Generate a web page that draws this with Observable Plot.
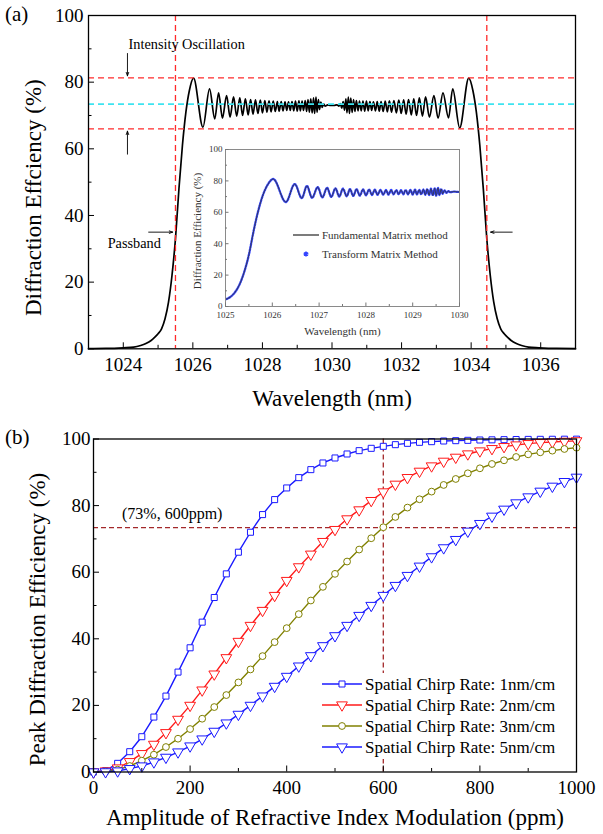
<!DOCTYPE html>
<html><head><meta charset="utf-8">
<script src="https://cdn.jsdelivr.net/npm/d3@7"></script>
<script src="https://cdn.jsdelivr.net/npm/@observablehq/plot@0.6"></script>
<style>
body{margin:0;background:#fff;}
#fig{position:relative;width:603px;height:834px;background:#fff;font-family:"Liberation Serif","Times New Roman",serif;color:#000;overflow:hidden}
#fig > *{position:absolute}
#fig svg, #fig svg text{font-family:"Liberation Serif","Times New Roman",serif}
.plab{font-size:21px;line-height:1}
</style></head><body><div id="fig"></div>
<script>
const FONT = '"Liberation Serif","Times New Roman",serif';

// ---------- Panel (a): spectrum (tails, rise, local extrema) ----------
const wavelengthNm = [
  1023.0,1023.5,1024.0,1024.3,1024.5,1024.65,1024.8,1024.9,1025.0,1025.1,1025.2,1025.3,1025.4,1025.5,1025.6,1025.7,1025.8,1025.9,1026.02,
  1026.29,1026.48,1026.63,1026.74,1026.85,1026.97,1027.07,1027.17,1027.26,1027.35,1027.43,1027.51,1027.59,1027.66,1027.73,1027.8,1027.87,1027.94,
  1028.0,1028.07,1028.13,1028.19,1028.25,1028.31,1028.37,1028.43,1028.48,1028.54,1028.59,1028.65,1028.7,1028.75,1028.8,1028.85,1028.9,1028.95,
  1029.0,1029.05,1029.09,1029.14,1029.18,1029.23,1029.27,1029.31,1029.35,1029.39,1029.43,1029.47,1029.5,1029.54,1029.57,1029.61,1029.64,1029.68,
  1029.72,1029.76,1029.8,1029.88,1029.96,1030.06,1030.14,
  1030.2,1030.24,1030.28,1030.32,1030.36,1030.4,1030.43,1030.47,1030.5,1030.54,1030.58,1030.62,1030.66,1030.7,1030.75,1030.79,1030.84,1030.89,
  1030.94,1030.99,1031.04,1031.09,1031.14,1031.19,1031.25,1031.3,1031.36,1031.41,1031.47,1031.53,1031.59,1031.65,1031.71,1031.78,1031.85,1031.92,
  1031.99,1032.06,1032.13,1032.2,1032.28,1032.35,1032.43,1032.51,1032.6,1032.69,1032.8,1032.93,1033.05,1033.19,1033.35,1033.47,1033.67,1033.93,
  1034.05,1034.15,1034.25,1034.35,1034.45,1034.55,1034.65,1034.75,1034.85,1034.95,1035.05,1035.15,1035.3,1035.45,1035.65,1035.95,1036.45,1037.0
];
const efficiencyPct = [
  0.05,0.1,0.3,0.5,1.0,1.6,2.5,3.4,4.5,6.0,9.0,14,22,33,48,61,71,77.5,81.2,
  66.5,78,69,76.8,69.2,76,69.5,75.6,69.8,75.3,70,75,70.2,74.8,70.4,74.7,70.6,74.6,
  70.8,74.5,71,74.4,71.1,74.3,71.2,74.2,71.3,74.2,71.4,74.1,71.5,74.1,71.5,74.2,71.4,74.3,
  71.3,74.4,71.4,74.3,71.5,74.5,71.2,74.8,71,75,70.8,75.3,70.6,75.5,71,74.8,71.8,74,
  72.4,73.5,72.8,73.2,73,73,73.2,
  72.8,73.6,72.2,74.2,71.6,75,70.8,75.5,70.6,75.2,70.9,74.8,71.2,74.5,71.4,74.3,71.4,74.3,
  71.3,74.3,71.4,74.2,71.5,74.1,71.4,74.2,71.3,74.2,71.2,74.3,71.1,74.4,71,74.5,70.8,74.6,
  70.6,74.7,70.4,74.8,70.2,75,70,75.3,69.8,75.6,69.5,76,69.2,76.8,69.3,78,66.3,81.2,
  77.5,71,61,48,33,22,14,9,6,4.5,3.4,2.5,1.6,1.0,0.5,0.3,0.1,0.05
];
const passbandEdgesNm = [1025.5, 1034.45];
const oscillationBoundsPct = [81.3, 66];
const meanEfficiencyPct = [73.4];
const aXTicks = [1024,1026,1028,1030,1032,1034,1036];
const aXMinor = [1023,1025,1027,1029,1031,1033,1035,1037];
const aYTicks = [0,20,40,60,80,100];
const aYMinor = [10,30,50,70,90];
const aArrows = [
  {x1:1024.12,y1:88.6,x2:1024.12,y2:81.9},
  {x1:1024.12,y1:58.4,x2:1024.12,y2:65.3},
  {x1:1024.73,y1:35.0,x2:1025.42,y2:35.0},
  {x1:1035.18,y1:35.0,x2:1034.56,y2:35.0}
];
const aNotes = [
  {x:1024.15,y:91.3,label:"Intensity Oscillation"},
  {x:1023.55,y:31.6,label:"Passband"}
];

// ---------- Inset ----------
const insetXTicks = [1025,1026,1027,1028,1029,1030];
const insetXMinor = [1025.5,1026.5,1027.5,1028.5,1029.5];
const insetYTicks = [0,20,40,60,80,100];
const insetYMinor = [10,30,50,70,90];
const insetLegend = ["Fundamental Matrix method","Transform Matrix Method"];

// ---------- Panel (b) ----------
const ppm = [0,25,50,75,100,125,150,175,200,225,250,275,300,325,350,375,400,425,450,475,500,
             525,550,575,600,625,650,675,700,725,750,775,800,825,850,875,900,925,950,975,1000];
const chirp1 = [0,0.4,2.6,6.1,10.6,16.5,22.8,30,37.3,45,52.4,59.5,66,72,77.3,81.8,85.3,88.4,90.8,92.8,94.3,
                95.5,96.5,97.2,97.8,98.3,98.7,99,99.2,99.4,99.5,99.6,99.7,99.75,99.8,99.85,99.88,99.9,99.92,99.94,99.95];
const chirp2 = [0,0.3,1.2,3.1,5.5,8.3,11.8,15.8,20,24.6,29.4,34.3,39.2,44,48.5,53,57.5,61.6,65.4,69.2,72.8,
                76,78.7,81.5,84.1,86.4,88.4,90.3,91.9,93.3,94.5,95.5,96.4,97.1,97.7,98.2,98.6,98.9,99.1,99.3,99.45];
const chirp3 = [0,0.15,0.7,1.8,3.4,5.2,7.5,10,12.9,16,19.5,23.1,26.9,30.8,34.8,39,43.2,47.4,51.5,55.6,59.5,
                63.2,66.8,70.2,73.5,76.6,79.4,81.9,84.2,86.2,88,89.7,91.2,92.5,93.6,94.6,95.4,96,96.5,97,97.4];
const chirp5 = [0,0.05,0.3,1.0,1.8,3.0,4.4,6.0,7.8,9.9,12.2,14.7,17.3,20,22.8,25.7,28.7,31.8,34.9,37.9,40.9,
                44,47,50,53,56,59,61.8,64.6,67.3,69.8,72.3,74.6,76.8,78.9,80.8,82.6,84.3,85.8,87.2,88.5];
const seriesNames = ["Spatial Chirp Rate: 1nm/cm","Spatial Chirp Rate: 2nm/cm","Spatial Chirp Rate: 3nm/cm","Spatial Chirp Rate: 5nm/cm"];
const seriesValues = [chirp1, chirp2, chirp3, chirp5];
const seriesColors = ["#1a1aff","#ff1a1a","#808000","#1a1aff"];
const seriesSymbols = ["square","triangle","circle","triangle"];
const seriesRotate = [0,180,0,180];
const bXTicks = [0,200,400,600,800,1000];
const bXMinor = [100,300,500,700,900];
const bYTicks = [0,20,40,60,80,100];
const bYMinor = [10,30,50,70,90];
const refPpm = [600];
const refPct = [73.4];
const bNote = [{x:59,y:77.5,label:"(73%, 600ppm)"}];

const fig = document.getElementById("fig");
const spectrum = wavelengthNm.map((w,i)=>({w, e: efficiencyPct[i]}));
const fmt = d3.format("d");

function axesMarks(xt, xm, yt, ym, o){
  const common = {label:null, stroke:o.tickColor, fontFamily:FONT};
  return [
    Plot.axisX({...common, ticks:xt, tickSize:-o.tick, tickPadding:o.xpad, fontSize:o.fs, fill:o.textColor, tickFormat:fmt}),
    Plot.axisX({...common, ticks:xm, tickSize:-o.minor, tickFormat:()=>""}),
    Plot.axisY({...common, ticks:yt, tickSize:-o.tick, tickPadding:o.ypad, fontSize:o.fs, fill:o.textColor, tickFormat:fmt}),
    Plot.axisY({...common, ticks:ym, tickSize:-o.minor, tickFormat:()=>""})
  ];
}

// Panel (a)
const plotA = Plot.plot({
  width:603, height:420, marginLeft:88, marginRight:28, marginTop:15, marginBottom:71.7,
  x:{domain:[1023,1037]}, y:{domain:[0,100]},
  style:{fontFamily:FONT, fontSize:"19px", background:"transparent", color:"#000", overflow:"visible"},
  marks:[
    Plot.line(spectrum,{x:"w",y:"e",curve:"monotone-x",stroke:"#000",strokeWidth:1.7}),
    Plot.ruleY(meanEfficiencyPct,{stroke:"#3ee3f0",strokeWidth:1.6,strokeDasharray:"6,4"}),
    Plot.ruleY(oscillationBoundsPct,{stroke:"#ff2a2a",strokeWidth:1.3,strokeDasharray:"6,4"}),
    Plot.ruleX(passbandEdgesNm,{stroke:"#ff2a2a",strokeWidth:1.3,strokeDasharray:"6,4"}),
    Plot.arrow(aArrows,{x1:"x1",y1:"y1",x2:"x2",y2:"y2",stroke:"#000",strokeWidth:0.9,headLength:6,headAngle:40}),
    Plot.text(aNotes,{x:"x",y:"y",text:"label",textAnchor:"start",fontSize:14.3,fontFamily:FONT}),
    Plot.frame({stroke:"#000",strokeWidth:1.3}),
    ...axesMarks(aXTicks,aXMinor,aYTicks,aYMinor,{tick:6,minor:3.5,xpad:14.5,ypad:11,fs:19,tickColor:"#000",textColor:"#000"}),
    Plot.text(["Wavelength (nm)"],{frameAnchor:"bottom",dy:50,fontSize:23,lineAnchor:"middle",textAnchor:"middle",fontFamily:FONT}),
    Plot.text(["Diffraction Effciency (%)"],{frameAnchor:"left",rotate:-90,dx:-55,dy:15.5,fontSize:23,lineAnchor:"middle",textAnchor:"middle",fontFamily:FONT})
  ]
});
plotA.style.left="0px"; plotA.style.top="0px";
fig.appendChild(plotA);

// Inset
const inset = Plot.plot({
  width:289, height:201, marginLeft:40, marginRight:15, marginTop:9, marginBottom:35,
  x:{domain:[1025,1030]}, y:{domain:[0,100]},
  style:{fontFamily:FONT, fontSize:"9px", background:"transparent", color:"#222", overflow:"visible"},
  marks:[
    Plot.line(spectrum,{x:"w",y:"e",curve:"monotone-x",stroke:"#3344ff",strokeWidth:2.3,strokeDasharray:"1.3,1.5",clip:true}),
    Plot.line(spectrum,{x:"w",y:"e",curve:"monotone-x",stroke:"#333",strokeWidth:0.8,clip:true}),
    Plot.frame({stroke:"#8a8a8a",strokeWidth:1}),
    ...axesMarks(insetXTicks,insetXMinor,insetYTicks,insetYMinor,{tick:3.5,minor:2,xpad:8.5,ypad:6.5,fs:9,tickColor:"#777",textColor:"#333"}),
    Plot.text(["Wavelength (nm)"],{frameAnchor:"bottom",dy:25,fontSize:11,lineAnchor:"middle",textAnchor:"middle",fill:"#333",fontFamily:FONT}),
    Plot.text(["Diffraction Efficiency (%)"],{frameAnchor:"left",rotate:-90,dx:-28,dy:3,fontSize:11,lineAnchor:"middle",textAnchor:"middle",fill:"#333",fontFamily:FONT})
  ]
});
inset.style.left="185px"; inset.style.top="140px";
fig.appendChild(inset);

// Inset legend
const il = d3.create("svg").attr("width",175).attr("height",40).style("left","290px").style("top","225px")
  .style("font-family",FONT).style("font-size","11px");
il.append("line").attr("x1",3).attr("x2",29).attr("y1",10).attr("y2",10).attr("stroke","#444").attr("stroke-width",1.4);
il.append("path").attr("d",d3.symbol(d3.symbolAsterisk,18)()).attr("transform","translate(16,29)").attr("stroke","#3344ff").attr("stroke-width",1.6).attr("fill","none");
insetLegend.forEach((t,i)=>il.append("text").attr("x",32).attr("y",10+19*i).attr("dy","0.35em").attr("fill","#333").text(t));
fig.appendChild(il.node());

// Panel (b)
const bMarks = [
  Plot.ruleX(refPpm,{stroke:"#a3282a",strokeWidth:1.3,strokeDasharray:"5,3"}),
  Plot.ruleY(refPct,{stroke:"#a3282a",strokeWidth:1.3,strokeDasharray:"5,3"})
];
seriesValues.forEach((vals,k)=>{
  const rows = ppm.map((p,i)=>({p, v: vals[i]}));
  bMarks.push(Plot.line(rows,{x:"p",y:"v",stroke:seriesColors[k],strokeWidth:1.4}));
});
seriesValues.forEach((vals,k)=>{
  const rows = ppm.map((p,i)=>({p, v: vals[i]}));
  bMarks.push(Plot.dot(rows,{x:"p",y:"v",symbol:seriesSymbols[k],r:seriesSymbols[k]==="triangle"?4:3.4,rotate:seriesRotate[k],stroke:seriesColors[k],fill:"#fff",strokeWidth:1}));
});
const plotB = Plot.plot({
  width:603, height:414, marginLeft:93, marginRight:27, marginTop:18.5, marginBottom:62.5,
  x:{domain:[0,1000]}, y:{domain:[0,100]},
  style:{fontFamily:FONT, fontSize:"19px", background:"transparent", color:"#000", overflow:"visible"},
  marks:[
    ...bMarks,
    Plot.text(bNote,{x:"x",y:"y",text:"label",textAnchor:"start",fontSize:16,fontFamily:FONT}),
    Plot.frame({stroke:"#000",strokeWidth:1.3}),
    ...axesMarks(bXTicks,bXMinor,bYTicks,bYMinor,{tick:6,minor:3.5,xpad:14.3,ypad:9,fs:19,tickColor:"#000",textColor:"#000"}),
    Plot.text(["Amplitude of Refractive Index Modulation (ppm)"],{frameAnchor:"bottom",dy:45.5,fontSize:23,lineAnchor:"middle",textAnchor:"middle",fontFamily:FONT}),
    Plot.text(["Peak Diffraction Efficiency (%)"],{frameAnchor:"left",rotate:-90,dx:-55.5,dy:14,fontSize:23,lineAnchor:"middle",textAnchor:"middle",fontFamily:FONT})
  ]
});
plotB.style.left="0px"; plotB.style.top="420px";
fig.appendChild(plotB);

// Panel (b) legend
const bl = d3.create("svg").attr("width",250).attr("height",86).style("left","318px").style("top","673px")
  .style("font-family",FONT).style("font-size","17px");
bl.append("rect").attr("width",250).attr("height",86).attr("fill","#fff");
const symMap = {square:d3.symbolSquare, triangle:d3.symbolTriangle, circle:d3.symbolCircle};
seriesNames.forEach((t,i)=>{
  const y = 11 + i*21;
  const r = seriesSymbols[i]==="triangle"?4:3.4;
  bl.append("line").attr("x1",4).attr("x2",44).attr("y1",y).attr("y2",y).attr("stroke",seriesColors[i]).attr("stroke-width",1.4);
  bl.append("path").attr("d",d3.symbol(symMap[seriesSymbols[i]], Math.PI*r*r)())
    .attr("transform",`translate(24,${y}) rotate(${seriesRotate[i]})`).attr("stroke",seriesColors[i]).attr("fill","#fff");
  bl.append("text").attr("x",47).attr("y",y).attr("dy","0.35em").text(t);
});
fig.appendChild(bl.node());

// panel labels
const la = document.createElement("div"); la.className="plab"; la.textContent="(a)"; la.style.left="5px"; la.style.top="4px"; fig.appendChild(la);
const lb = document.createElement("div"); lb.className="plab"; lb.textContent="(b)"; lb.style.left="5px"; lb.style.top="427px"; fig.appendChild(lb);
</script></body></html>
